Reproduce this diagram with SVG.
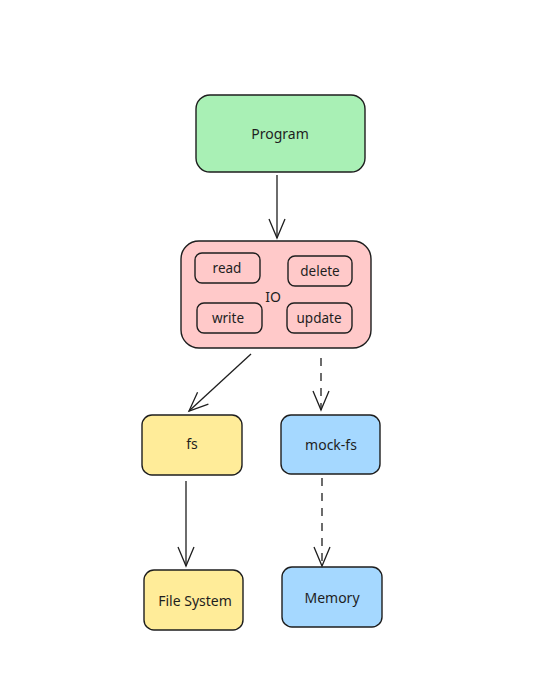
<svg xmlns="http://www.w3.org/2000/svg" width="551" height="697" viewBox="0 0 551 697">
<style>
.box{stroke:#1e1e1e;stroke-width:1.4}
.lbl{font-family:"Noto Sans","DejaVu Sans",sans-serif;font-size:14px;fill:#1e1e1e;text-anchor:middle;dominant-baseline:central}
.sm{font-size:13.5px}
.edge{fill:none;stroke:#1e1e1e;stroke-width:1.3}
.dash{stroke-dasharray:8 7}
</style>
<defs>
<marker id="ah" markerUnits="userSpaceOnUse" markerWidth="1" markerHeight="1" refX="0" refY="0" orient="auto" overflow="visible">
<path d="M-19,-8 L0,0 L-19,8" fill="none" stroke="#1e1e1e" stroke-width="1.3"/>
</marker>
</defs>
<rect width="551" height="697" fill="#ffffff"/>
<g id="program"><rect class="box" x="196" y="95" width="169" height="77" rx="14" fill="#a9f0b5"/><text class="lbl" x="280" y="133">Program</text></g>
<g id="io"><rect class="box" x="181" y="241" width="190" height="107" rx="18" fill="#ffc9c9"/><text class="lbl" x="273" y="296">IO</text></g>
<g id="read"><rect class="box" x="195" y="253" width="65" height="30" rx="7" fill="none"/><text class="lbl sm" x="227" y="268">read</text></g>
<g id="delete"><rect class="box" x="288" y="256" width="64" height="30" rx="7" fill="none"/><text class="lbl sm" x="320" y="271">delete</text></g>
<g id="write"><rect class="box" x="197" y="303" width="65" height="30" rx="7" fill="none"/><text class="lbl sm" x="228" y="318">write</text></g>
<g id="update"><rect class="box" x="287" y="303" width="65" height="30" rx="7" fill="none"/><text class="lbl sm" x="319" y="318">update</text></g>
<g id="fs"><rect class="box" x="142" y="415" width="100" height="60" rx="10" fill="#ffec99"/><text class="lbl" x="192" y="443">fs</text></g>
<g id="mock-fs"><rect class="box" x="281" y="415" width="99" height="59" rx="10" fill="#a5d8ff"/><text class="lbl" x="331" y="444">mock-fs</text></g>
<g id="file-system"><rect class="box" x="144" y="570" width="99" height="60" rx="10" fill="#ffec99"/><text class="lbl" x="195" y="600">File System</text></g>
<g id="memory"><rect class="box" x="282" y="567" width="100" height="60" rx="10" fill="#a5d8ff"/><text class="lbl" x="332" y="597">Memory</text></g>
<g id="connectors">
<path class="edge" d="M277,175 L277,238" marker-end="url(#ah)"/>
<path class="edge" d="M251,354 L189,411" marker-end="url(#ah)"/>
<path class="edge dash" d="M321,358 L321,410" marker-end="url(#ah)"/>
<path class="edge" d="M186,481 L186,566" marker-end="url(#ah)"/>
<path class="edge dash" d="M322,478 L322,566" marker-end="url(#ah)"/>
</g>
</svg>
